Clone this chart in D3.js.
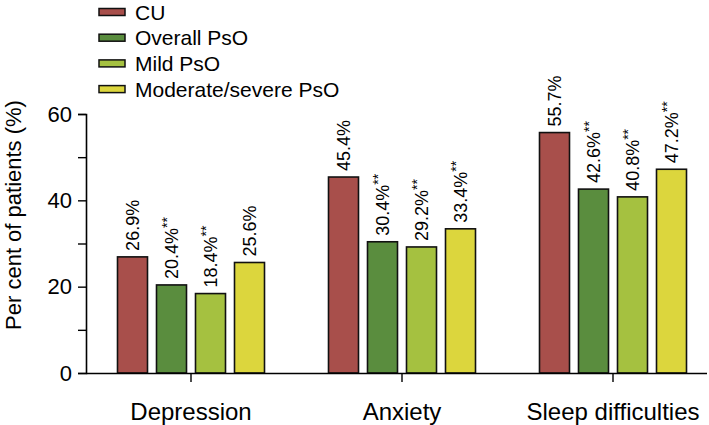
<!DOCTYPE html>
<html>
<head>
<meta charset="utf-8">
<script src="https://cdn.jsdelivr.net/npm/d3@7"></script>
<style>
  body { margin: 0; background: #fff; }
  text { font-family: "Liberation Sans", Arial, Helvetica, sans-serif; fill: #000; }
</style>
</head>
<body>
<svg id="chart" width="709" height="425"></svg>
<script>
const categories = ["Depression", "Anxiety", "Sleep difficulties"];
const seriesNames = ["CU", "Overall PsO", "Mild PsO", "Moderate/severe PsO"];
const seriesColors = ["#a84f4b", "#5a8d3e", "#a5c140", "#dcd63d"];
const cuValues = [26.9, 45.4, 55.7];
const overallValues = [20.4, 30.4, 42.6];
const mildValues = [18.4, 29.2, 40.8];
const modSevValues = [25.6, 33.4, 47.2];
const significance = [
  ["", "**", "**", ""],
  ["", "**", "**", "**"],
  ["", "**", "**", "**"]
];
const yTicks = [0, 10, 20, 30, 40, 50, 60];
const yLabelTicks = [0, 20, 40, 60];

const seriesValues = [cuValues, overallValues, mildValues, modSevValues];

const svg = d3.select("#chart");
const x0 = d3.scaleBand().domain(categories).range([85.5, 718.5]).padding(0);
const x1 = d3.scaleBand().domain(seriesNames).range([-78, 78])
  .paddingInner(0.2308).paddingOuter(0.1154);
const y = d3.scaleLinear().domain([0, 60]).range([373, 114]);

// bars
const groups = svg.selectAll("g.grp").data(categories).enter().append("g")
  .attr("class", "grp")
  .attr("transform", d => `translate(${x0(d) + x0.bandwidth() / 2},0)`);

groups.each(function(cat, ci) {
  const g = d3.select(this);
  seriesNames.forEach((s, si) => {
    const v = seriesValues[si][ci];
    g.append("rect")
      .attr("x", x1(s))
      .attr("y", y(v))
      .attr("width", x1.bandwidth())
      .attr("height", y(0) - y(v))
      .attr("fill", seriesColors[si])
      .attr("stroke", "#111")
      .attr("stroke-width", 1.6);
    const cx = x1(s) + x1.bandwidth() / 2;
    const t = g.append("text")
      .attr("transform", `translate(${cx + 6.5},${y(v) - 6}) rotate(-90)`)
      .attr("font-size", 18)
      .text(v.toFixed(1) + "%");
    if (significance[ci][si]) {
      t.append("tspan")
        .attr("font-size", 14)
        .attr("dy", -6)
        .text(significance[ci][si]);
    }
  });
});

// y axis
const yAxis = d3.axisLeft(y).tickValues(yTicks).tickSize(8).tickPadding(6)
  .tickFormat(d => yLabelTicks.includes(d) ? d : "");
const yg = svg.append("g").attr("transform", "translate(86,0)").call(yAxis);
yg.select(".domain").attr("stroke", "#000").attr("stroke-width", 1.6);
yg.selectAll(".tick line").attr("stroke", "#000").attr("stroke-width", 1.4);
yg.selectAll(".tick text").attr("font-size", 22)
  .attr("font-family", "Liberation Sans, Arial, sans-serif");

// x axis
const xAxis = d3.axisBottom(x0).tickSize(9).tickPadding(21).tickSizeOuter(0);
const xg = svg.append("g").attr("transform", "translate(0,373)").call(xAxis);
xg.select(".domain").attr("d", "M86,0.5H707").attr("stroke", "#000").attr("stroke-width", 1.6);
xg.selectAll(".tick line").attr("stroke", "#000").attr("stroke-width", 1.4);
xg.selectAll(".tick text").attr("font-size", 24)
  .attr("font-family", "Liberation Sans, Arial, sans-serif");

// y title
svg.append("text")
  .attr("transform", "translate(21,215) rotate(-90)")
  .attr("text-anchor", "middle")
  .attr("font-size", 22)
  .text("Per cent of patients (%)");

// legend
const leg = svg.append("g");
seriesNames.forEach((s, i) => {
  const base = 19.5 + i * 25.7;
  leg.append("rect")
    .attr("x", 99).attr("y", base - 11)
    .attr("width", 26).attr("height", 7)
    .attr("fill", seriesColors[i])
    .attr("stroke", "#111").attr("stroke-width", 1.5);
  leg.append("text")
    .attr("x", 135).attr("y", base)
    .attr("font-size", 21)
    .text(s);
});
</script>
</body>
</html>
